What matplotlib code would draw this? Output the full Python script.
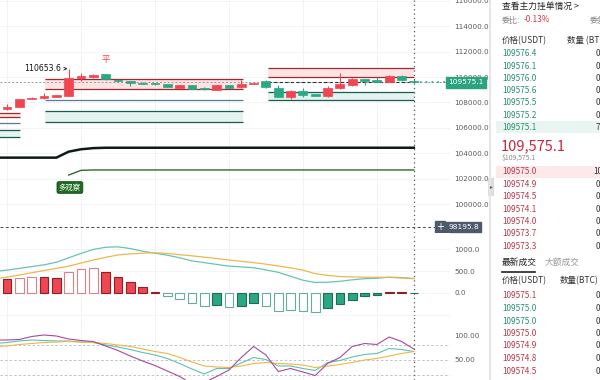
import numpy as np
import matplotlib.pyplot as plt
from matplotlib.patches import Rectangle

plt.rcParams['font.family'] = ['DejaVu Sans', 'Noto Sans CJK SC']

UP = '#ef4651'
DOWN = '#2ba883'

# candle data, index -1 is the bar cut off on the left edge
idx = np.arange(-1, 34)
opens = [107250, 107457, 107661, 108291, 108323, 108449, 108528, 109898, 110024, 110213,
         109800, 109685, 109551, 109472, 109449, 109157, 109370, 109079, 108976, 109370,
         109189, 109449, 109685, 109157, 108449, 108898, 108638, 108528, 109110, 109370,
         109819, 109764, 109630, 110102, 109685]
highs = [107500, 107874, 108250, 108400, 108764, 108600, 110653.6, 110291, 110200, 110260,
         109850, 109720, 109580, 109560, 109480, 109400, 109400, 109250, 109370, 109400,
         109764, 109600, 109764, 109370, 109000, 109110, 108700, 109315, 110291, 109900,
         109850, 109976, 110120, 110150, 109840]
lows = [107150, 107400, 107600, 108240, 108300, 108420, 108500, 109685, 109950, 109800,
        109640, 109315, 109420, 109370, 109190, 109120, 109030, 108950, 108950, 109130,
        109160, 109420, 109160, 108390, 108244, 108449, 108500, 108402, 109080, 109330,
        109370, 109600, 109600, 109700, 109530]
closes = [107400, 107614, 108244, 108370, 108480, 108559, 109898, 110102, 110157, 109843,
          109660, 109551, 109449, 109425, 109213, 109370, 109055, 109031, 109346, 109157,
          109449, 109551, 109189, 108449, 108921, 108583, 108528, 109157, 109425, 109819,
          109685, 109630, 110079, 109740, 109575.1]

last_price = 109575.1
marked_price = 98195.8
high_mark = 110653.6
high_idx = 5

# support / resistance zones: start, end, top line, bottom line, kind
zones = [
    (-1.0, 1.05, 107189, 106850, 'red'),
    (-1.0, 1.05, 105827, 105300, 'teal'),
    (3.1, 19.1, 109866, 109055, 'red'),
    (3.1, 19.1, 107323, 106457, 'teal'),
    (21.2, 33.0, 110709, 110024, 'red'),
    (21.2, 33.0, 108819, 108189, 'teal'),
]
blue_lines = [(-1.0, 1.05, 106417), (3.1, 19.1, 108189)]

# trend lines
trend_black = [103650, 103650, 103650, 103650, 103650, 103650, 104120, 104310, 104400, 104430,
               104430, 104430, 104430, 104430, 104430, 104430, 104430, 104430, 104430, 104430,
               104430, 104430, 104430, 104430, 104430, 104430, 104430, 104430, 104430, 104430,
               104430, 104430, 104430, 104430, 104430]
trend_green_idx = np.arange(5, 34)
trend_green = [102280, 102650] + [102680] * 27

# MACD
dif = [490, 520, 560, 600, 640, 700, 800, 900, 990, 1040, 1050, 1010, 950, 905, 860, 800, 730,
       690, 650, 610, 595, 575, 525, 470, 380, 290, 240, 245, 265, 300, 325, 335, 360, 350, 330]
dea = [320, 360, 410, 460, 510, 560, 610, 680, 750, 810, 865, 890, 905, 915, 900, 870, 845,
       815, 785, 750, 720, 690, 655, 615, 570, 520, 440, 400, 375, 365, 360, 358, 355, 340, 325]
hist = [300, 318, 348, 356, 364, 333, 470, 545, 561, 477, 364, 250, 129, 30, -75, -143, -220,
        -295, -273, -311, -289, -234, -289, -402, -394, -409, -432, -341, -257, -152, -75, -52,
        16, 16, -10]
hist_filled = [1, 1, 0, 0, 1, 1, 0, 0, 0, 1, 1, 1, 1, 1, 0, 0, 0, 0, 1, 0, 1, 1, 0, 0, 0, 0,
               0, 1, 1, 1, 1, 1, 1, 1, 1]

# KDJ
k_line = [83, 85, 88, 90, 89, 88, 88, 86, 85, 80, 76, 71, 65, 60, 53, 43, 32, 22, 33, 33, 44,
          55, 51, 38, 38, 33, 29, 45, 49, 56, 61, 63, 73, 71, 67]
d_line = [77, 78, 81, 83, 85, 86, 87, 86, 85, 83, 80, 77, 72, 67, 63, 55, 46, 38, 36, 35, 38,
          43, 45, 43, 42, 40, 35, 38, 41, 45, 50, 53, 58, 63, 67]
j_line = [90, 90, 91, 97, 100, 98, 92, 89, 87, 78, 69, 58, 48, 39, 28, 17, 2, 5, 17, 30, 55,
          77, 60, 27, 33, 26, 19, 43, 55, 77, 83, 81, 96, 87, 72]

price_ticks = [100000, 102000, 104000, 106000, 108000, 110000, 112000, 114000, 116000]
macd_ticks = [0, 500, 1000]
kdj_ticks = [50, 100]

ask_prices = ['109576.4', '109576.1', '109576.0', '109575.6', '109575.5', '109575.2', '109575.1']
ask_qty = ['0', '0', '0', '0', '0', '0', '7']
bid_prices = ['109575.0', '109574.9', '109574.5', '109574.1', '109574.0', '109573.7', '109573.3']
bid_qty = ['10', '0', '0', '0', '0', '0', '0']
trade_prices = ['109575.1', '109575.0', '109575.0', '109575.0', '109574.9', '109574.8', '109574.5']
trade_up = [False, True, True, False, False, False, False]

W, H = 600, 380
fig = plt.figure(figsize=(6, 3.8), dpi=100)


def px_axes(x0, y0, x1, y1):
    return fig.add_axes([x0 / W, 1 - y1 / H, (x1 - x0) / W, (y1 - y0) / H])


ax = px_axes(0, 0, 450, 233)
ax_m = px_axes(0, 233, 450, 316)
ax_k = px_axes(0, 316, 450, 380)
xlim = (-0.57, 35.93)

for a in (ax, ax_m, ax_k):
    a.set_xlim(*xlim)
    a.set_xticks([])
    for s in a.spines.values():
        s.set_visible(False)
    a.yaxis.tick_right()
    a.tick_params(axis='y', length=0, pad=3, labelsize=5.2, labelcolor='#5b5b5b')
    for g in [0, 6, 12, 18, 24, 30]:
        a.axvline(g, color='#f1f1f1', lw=0.6, zorder=0)
    a.axvline(33, color='#555555', lw=0.9, ls=(0, (1, 2.5)), zorder=6)

# ---- main price panel
ax.set_ylim(97717, 116063)
ax.set_yticks(price_ticks)
ax.set_yticklabels([f'{t:.1f}' for t in price_ticks])
for t in price_ticks:
    ax.axhline(t, color='#f3f3f3', lw=0.6, zorder=0)

for x0, x1, top, bot, kind in zones:
    line_c = '#9c2b2f' if kind == 'red' else '#1d5a50'
    fill_c = '#fde3e4' if kind == 'red' else '#e3f3ef'
    ax.fill_between([x0, x1], bot, top, color=fill_c, lw=0, zorder=1)
    ax.hlines([top, bot], x0, x1, color=line_c, lw=0.9, zorder=2)
for x0, x1, yv in blue_lines:
    ax.hlines(yv, x0, x1, color='#58799a', lw=0.9, zorder=2)

ax.axhline(last_price, color='#9a9a9a', lw=0.7, ls=(0, (2, 2)), zorder=2)
ax.hlines(last_price, 21.2, 33, color='#2c3440', lw=0.8, ls=(0, (3, 2)), zorder=2)
ax.hlines(last_price, 33, xlim[1], color=DOWN, lw=1.2, ls=(0, (1, 2.5)), zorder=2)
ax.axhline(marked_price, color='#4a4a4a', lw=0.7, ls=(0, (3, 2.5)), zorder=2)

cols = [UP if c >= o else DOWN for o, c in zip(opens, closes)]
ax.vlines(idx, lows, highs, color=cols, lw=0.8, zorder=3)
body_lo = np.minimum(opens, closes)
body_h = np.maximum(np.abs(np.array(closes) - np.array(opens)), 70)
ax.bar(idx, body_h, bottom=body_lo, width=0.72, color=cols, edgecolor=cols, lw=0.5, zorder=4)

ax.plot(idx, trend_black, color='#0f1a12', lw=1.8, zorder=3)
ax.plot(trend_green_idx, trend_green, color='#2f6b2f', lw=1.0, zorder=3)

ax.annotate(f'{high_mark}', xy=(high_idx - 0.1, high_mark), xytext=(high_idx - 0.6, high_mark),
            fontsize=5.6, color='#111111', ha='right', va='center',
            arrowprops=dict(arrowstyle='->', color='#111111', lw=0.6, shrinkA=1, shrinkB=0,
                            mutation_scale=5))
ax.text(8, 111340, '平', color=UP, fontsize=6, ha='center', va='center',
        family=['Noto Sans CJK SC'])
ax.text(5.1, 101300, '多观察', color='white', fontsize=5.3, ha='center', va='center',
        family=['Noto Sans CJK SC'],
        bbox=dict(boxstyle='round,pad=0.25', fc='#1f6b22', ec='#134a16', lw=0.6))

# price tags on the axis
ax.text(0.996, last_price, f'{last_price}', transform=ax.get_yaxis_transform(), fontsize=5.3,
        color='white', ha='left', va='center', zorder=8, clip_on=False,
        bbox=dict(boxstyle='square,pad=0.3', fc='#2ba37e', ec='#2ba37e'))
ax.text(0.996, marked_price, f'{marked_price}', transform=ax.get_yaxis_transform(), fontsize=5.3,
        color='white', ha='left', va='center', zorder=8, clip_on=False,
        bbox=dict(boxstyle='square,pad=0.3', fc='#4d5a6b', ec='#4d5a6b'))
ax.text(0.978, marked_price, '+', transform=ax.get_yaxis_transform(), fontsize=7,
        color='white', ha='center', va='center', zorder=8, clip_on=False,
        bbox=dict(boxstyle='square,pad=0.1', fc='#4d5a6b', ec='#4d5a6b'))

# ---- MACD
ax_m.set_ylim(-523, 1364)
ax_m.set_yticks(macd_ticks)
ax_m.set_yticklabels([f'{t:.1f}' for t in macd_ticks])
for t in [-500, 0, 500, 1000]:
    ax_m.axhline(t, color='#f3f3f3', lw=0.6, zorder=0)
face, edge = [], []
for h, f in zip(hist, hist_filled):
    if h >= 0:
        face.append(UP if f else 'white')
        edge.append('#8e1f28' if f else '#d9828a')
    else:
        face.append(DOWN if f else 'white')
        edge.append('#1b6e55' if f else '#63ae99')
ax_m.bar(idx, hist, width=0.7, color=face, edgecolor=edge, lw=0.8, zorder=3)
ax_m.plot(idx, dif, color='#68c2b5', lw=0.9, zorder=4)
ax_m.plot(idx, dea, color='#efb64c', lw=0.9, zorder=4)

# ---- KDJ
ax_k.set_ylim(10, 138)
ax_k.set_yticks(kdj_ticks)
ax_k.set_yticklabels([f'{t:.2f}' for t in kdj_ticks])
for t in [20, 50, 80]:
    ax_k.axhline(t, color='#b9b9b9', lw=0.6, ls=(0, (3, 2.5)), zorder=1)
ax_k.plot(idx, k_line, color='#5fc0b3', lw=0.8, zorder=3)
ax_k.plot(idx, d_line, color='#efb54b', lw=0.8, zorder=3)
ax_k.plot(idx, j_line, color='#a54a9f', lw=0.8, zorder=3)

# ---- order book panel (pixel coordinates)
ob = px_axes(488, 0, 600, 380)
ob.set_xlim(488, 600)
ob.set_ylim(380, 0)
ob.axis('off')
ob.axvline(489.5, color='#e6e6e6', lw=1.5)
ob.add_patch(Rectangle((488, 178), 6, 18, fc='#dcdcdc', ec='none'))
ob.text(491, 187, '▸', fontsize=4, color='#555555', ha='center', va='center')

cjk = ['Noto Sans CJK SC', 'DejaVu Sans']
ob.text(502, 6, '查看主力挂单情况 >', fontsize=6.3, color='#222222', va='center', family=cjk)
ob.text(502, 20, '委比:', fontsize=5.8, color='#8a8a8a', va='center', family=cjk)
ob.text(524, 20, '-0.13%', fontsize=5.8, color='#d0374a', va='center', family=cjk)
ob.text(590, 20, '委差', fontsize=5.8, color='#8a8a8a', va='center', family=cjk)
ob.text(502, 41, '价格(USDT)', fontsize=6.1, color='#333333', va='center', family=cjk)
ob.text(567, 41, '数量 (BTC)', fontsize=6.1, color='#333333', va='center', family=cjk)

ob.add_patch(Rectangle((496, 121), 104, 12, fc='#e8f5f1', ec='none'))
ob.add_patch(Rectangle((496, 166), 104, 12, fc='#fde8ea', ec='none'))
for i, (p, q) in enumerate(zip(ask_prices, ask_qty)):
    y = 54 + i * 12.2
    ob.text(502, y, p, fontsize=5.9, color='#2a8f6e', va='center', family=cjk)
    ob.text(596 - 3 * (len(q) - 1), y, q, fontsize=5.9, color='#333333', va='center', family=cjk)
ob.text(501, 146, '109,575.1', fontsize=10.5, color='#c8283c', va='center', family=cjk)
ob.text(502, 158, '$109,575.1', fontsize=4.9, color='#8a8a8a', va='center', family=cjk)
for i, (p, q) in enumerate(zip(bid_prices, bid_qty)):
    y = 172 + i * 12.4
    ob.text(502, y, p, fontsize=5.9, color='#b8384a', va='center', family=cjk)
    ob.text(596 - 3 * (len(q) - 1), y, q, fontsize=5.9, color='#333333', va='center', family=cjk)

ob.text(502, 262, '最新成交', fontsize=6.3, color='#222222', va='center', family=cjk)
ob.text(545, 262, '大额成交', fontsize=6.3, color='#9a9a9a', va='center', family=cjk)
ob.plot([502, 535], [272, 272], color='#222222', lw=1.2)
ob.text(502, 281, '价格(USDT)', fontsize=6.1, color='#333333', va='center', family=cjk)
ob.text(560, 281, '数量(BTC)', fontsize=6.1, color='#333333', va='center', family=cjk)
for i, (p, up) in enumerate(zip(trade_prices, trade_up)):
    y = 296 + i * 12.5
    ob.text(502, y, p, fontsize=5.9, color='#2a8f6e' if up else '#b8384a', va='center', family=cjk)
    ob.text(596, y, '0', fontsize=5.9, color='#333333', va='center', family=cjk)

fig.savefig('out.png', dpi=100)
